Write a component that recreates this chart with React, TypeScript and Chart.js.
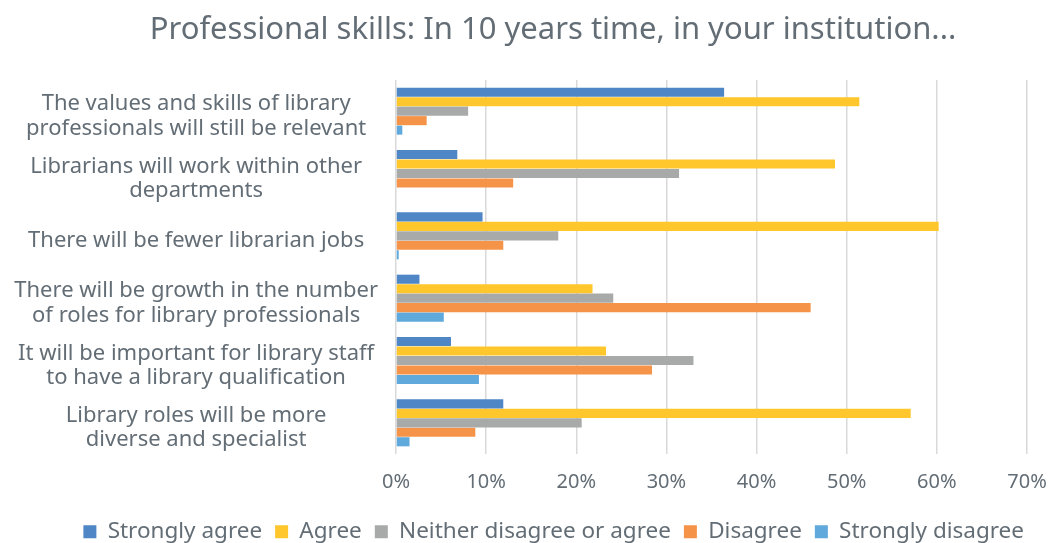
import React, { useEffect, useRef } from "react";
import { Chart, registerables } from "chart.js";

Chart.register(...registerables);

const categories: string[][] = [
  ["The values and skills of library", "professionals will still be relevant"],
  ["Librarians will work within other", "departments"],
  ["There will be fewer librarian jobs"],
  ["There will be growth in the number", "of roles for library professionals"],
  ["It will be important for library staff", "to have a library qualification"],
  ["Library roles will be more", "diverse and specialist"],
];

const stronglyAgree = [36.4, 6.8, 9.6, 2.6, 6.1, 11.9];
const agree = [51.4, 48.7, 60.2, 21.8, 23.3, 57.1];
const neither = [8.0, 31.4, 18.0, 24.1, 33.0, 20.6];
const disagree = [3.4, 13.0, 11.9, 46.0, 28.4, 8.8];
const stronglyDisagree = [0.7, 0, 0.3, 5.3, 9.2, 1.5];

const seriesNames = [
  "Strongly agree",
  "Agree",
  "Neither disagree or agree",
  "Disagree",
  "Strongly disagree",
];
const seriesColors = ["#4e86c6", "#ffc72c", "#a8aaaa", "#f59449", "#5fa9dc"];

const titleText = "Professional skills: In 10 years time, in your institution...";

const FONT = "'Noto Sans'";
const TEXT_COLOR = "#636d75";

const titlePlugin = {
  id: "customTitle",
  afterDraw(chart: any) {
    const ctx = chart.ctx;
    ctx.save();
    ctx.font = `31px ${FONT}`;
    ctx.fillStyle = TEXT_COLOR;
    ctx.textAlign = "center";
    ctx.textBaseline = "middle";
    ctx.fillText(titleText, 553, 30);
    ctx.restore();
  },
};

export default function App() {
  const ref = useRef<HTMLCanvasElement | null>(null);
  useEffect(() => {
    if (!ref.current) return;
    const values = [stronglyAgree, agree, neither, disagree, stronglyDisagree];
    const chart = new Chart(ref.current, {
      type: "bar",
      data: {
        labels: categories,
        datasets: values.map((v, i) => ({
          label: seriesNames[i],
          data: v,
          backgroundColor: seriesColors[i],
          borderWidth: 0,
          categoryPercentage: 0.76,
          barPercentage: 0.96,
        })),
      },
      plugins: [titlePlugin],
      options: {
        indexAxis: "y",
        animation: false,
        responsive: false,
        maintainAspectRatio: false,
        layout: { padding: { left: 8, right: 15, top: 80, bottom: -10 } },
        plugins: {
          title: { display: false },
          legend: {
            position: "bottom",
            align: "end",
            labels: {
              color: TEXT_COLOR,
              font: { family: FONT, size: 22.5 },
              boxWidth: 13,
              boxHeight: 13,
              padding: 13,
            },
          },
          tooltip: { enabled: false },
        },
        scales: {
          x: {
            min: 0,
            max: 70,
            afterFit: (s: any) => {
              s.paddingRight = 25;
              s.height = 53.5;
            },
            ticks: {
              stepSize: 10,
              color: TEXT_COLOR,
              font: { family: FONT, size: 20 },
              padding: 16,
              callback: (v: any) => v + "%",
            },
            grid: { color: "#d9d9d9", lineWidth: 1.5, drawTicks: false },
            border: { display: false },
          },
          y: {
            afterFit: (s: any) => {
              s.width = 388;
            },
            ticks: {
              color: TEXT_COLOR,
              font: { family: FONT, size: 22, lineHeight: 1.1 },
              crossAlign: "center",
              padding: 18,
              labelOffset: 5,
            },
            grid: { display: false, drawTicks: false },
            border: { display: false },
          },
        },
      },
    });
    return () => chart.destroy();
  }, []);
  return (
    <div style={{ position: "absolute", left: 0, top: 0, width: 1052, height: 543, background: "#fff" }}>
      <canvas ref={ref} width={1052} height={543} style={{ width: 1052, height: 543 }} />
    </div>
  );
}
